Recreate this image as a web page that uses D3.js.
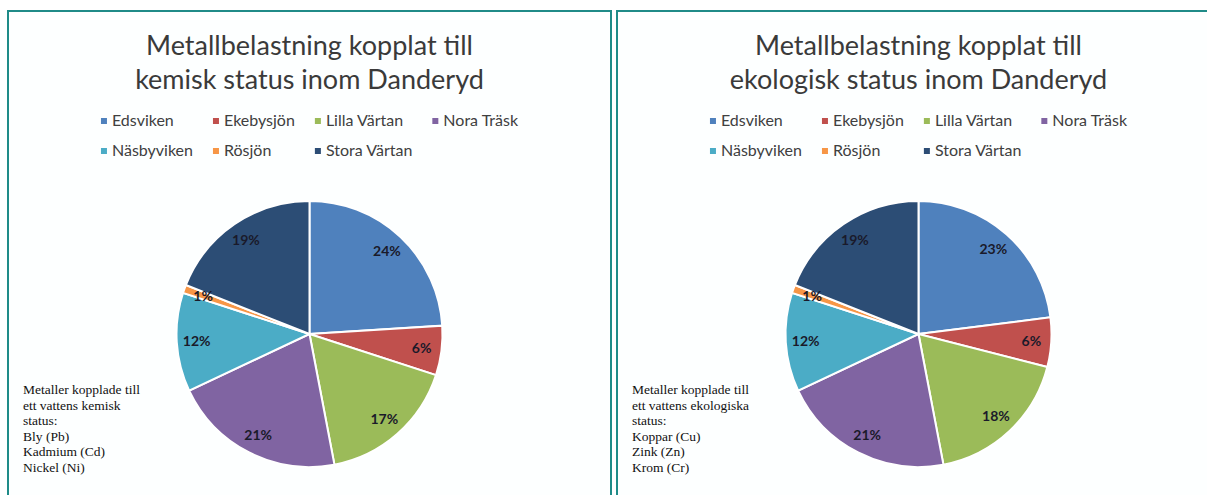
<!DOCTYPE html>
<html>
<head>
<meta charset="UTF-8">
<title>Metallbelastning Danderyd</title>
<script src="https://cdn.jsdelivr.net/npm/d3@7"></script>
<style>
  html, body { margin: 0; padding: 0; background: #fff; }
  svg { display: block; }
</style>
</head>
<body>
<div id="chart"></div>
<script>
// data
var categories = ['Edsviken', 'Ekebysjön', 'Lilla Värtan', 'Nora Träsk', 'Näsbyviken', 'Rösjön', 'Stora Värtan'];
var kemiskValues = [24, 6, 17, 21, 12, 1, 19];
var ekologiskValues = [23, 6, 18, 21, 12, 1, 19];
var kemiskTitle = ['Metallbelastning kopplat till', 'kemisk status inom Danderyd'];
var ekologiskTitle = ['Metallbelastning kopplat till', 'ekologisk status inom Danderyd'];
var kemiskNote = ['Metaller kopplade till', 'ett vattens kemisk', 'status:', 'Bly (Pb)', 'Kadmium (Cd)', 'Nickel (Ni)'];
var ekologiskNote = ['Metaller kopplade till', 'ett vattens ekologiska', 'status:', 'Koppar (Cu)', 'Zink (Zn)', 'Krom (Cr)'];

var colors = ['#4f81bd', '#c0504d', '#9bbb59', '#8064a2', '#4bacc6', '#f79646', '#2c4d75'];

var W = 1207, H = 495;
var panelW = 603, radius = 133;

var svg = d3.select('#chart').append('svg')
    .attr('width', W)
    .attr('height', H);

var color = d3.scaleOrdinal().domain(categories).range(colors);

var pie = d3.pie().sort(null).value(function(d){ return d.value; });
var arc = d3.arc().innerRadius(0).outerRadius(radius);
var labelArc = d3.arc().innerRadius(radius * 0.85).outerRadius(radius * 0.85);

function drawPanel(x, titleLines, values, noteLines) {
    var g = svg.append('g').attr('transform', 'translate(' + x + ',11)');

    g.append('rect')
        .attr('width', panelW)
        .attr('height', 520)
        .attr('fill', '#fdffff')
        .attr('stroke', '#1f8b88')
        .attr('stroke-width', 2);

    // title
    g.append('text')
        .attr('text-anchor', 'middle')
        .attr('font-family', 'Lato, "Open Sans", sans-serif')
        .attr('font-size', 27)
        .attr('fill', '#3a3a3a')
        .selectAll('tspan')
        .data(titleLines)
        .enter()
        .append('tspan')
        .attr('x', panelW / 2)
        .attr('y', function(d, i){ return 44 + i * 34; })
        .text(function(d){ return d; });

    // legend, 4 columns grid
    var nCols = 4;
    var legend = g.append('g').attr('font-family', 'Lato, "Open Sans", sans-serif').attr('font-size', 16);
    var items = legend.selectAll('g')
        .data(categories)
        .enter()
        .append('g');
    items.append('rect')
        .attr('width', 6).attr('height', 6)
        .attr('y', -8)
        .attr('fill', function(d){ return color(d); });
    items.append('text')
        .attr('x', 11)
        .attr('fill', '#404040')
        .text(function(d){ return d; });

    var colW = [];
    items.each(function(d, i){
        var w = d3.select(this).select('text').node().getComputedTextLength() + 11;
        var c = i % nCols;
        colW[c] = Math.max(colW[c] || 0, w);
    });
    var colX = [0];
    for (var c = 1; c < nCols; c++) colX[c] = colX[c-1] + colW[c-1] + 20;
    var totalW = colX[nCols-1] + colW[nCols-1];
    items.attr('transform', function(d, i){
        return 'translate(' + colX[i % nCols] + ',' + (Math.floor(i / nCols) * 30) + ')';
    });
    legend.attr('transform', 'translate(' + ((panelW - totalW) / 2) + ',115)');

    // pie
    var data = categories.map(function(c, i){ return {name: c, value: values[i]}; });
    var pg = g.append('g').attr('transform', 'translate(' + (panelW / 2) + ',323)');
    var arcs = pie(data);
    pg.selectAll('path')
        .data(arcs)
        .enter()
        .append('path')
        .attr('d', arc)
        .attr('fill', function(d){ return color(d.data.name); })
        .attr('stroke', '#fff')
        .attr('stroke-width', 2);

    pg.selectAll('text')
        .data(arcs)
        .enter()
        .append('text')
        .attr('transform', function(d){ return 'translate(' + labelArc.centroid(d) + ')'; })
        .attr('text-anchor', 'middle')
        .attr('dy', '0.35em')
        .attr('font-family', 'Lato, "Open Sans", sans-serif')
        .attr('font-weight', 'bold')
        .attr('font-size', 14)
        .attr('fill', '#1a1a2a')
        .text(function(d){ return d.data.value + '%'; });

    // note
    g.append('text')
        .attr('font-family', '"Liberation Serif", "Times New Roman", serif')
        .attr('font-size', 13.5)
        .attr('fill', '#111')
        .selectAll('tspan')
        .data(noteLines)
        .enter()
        .append('tspan')
        .attr('x', 15)
        .attr('y', function(d, i){ return 383 + i * 15.6; })
        .text(function(d){ return d; });
}

drawPanel(8, kemiskTitle, kemiskValues, kemiskNote);
drawPanel(617, ekologiskTitle, ekologiskValues, ekologiskNote);
</script>
</body>
</html>
